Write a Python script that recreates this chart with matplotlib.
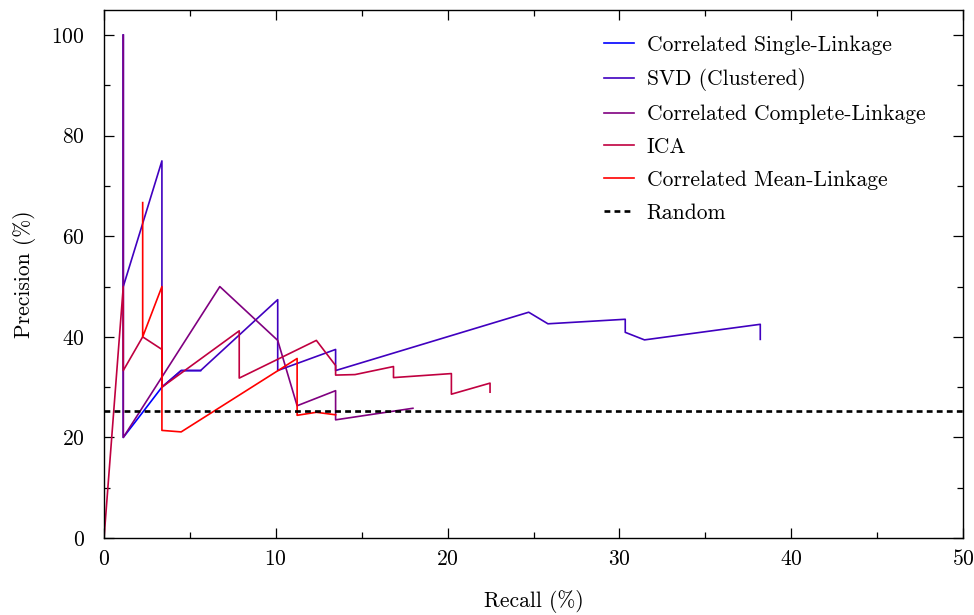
import matplotlib
matplotlib.use("Agg")
import matplotlib.pyplot as plt
from matplotlib.ticker import MultipleLocator

plt.rcParams['font.family'] = 'serif'
plt.rcParams['font.serif'] = ['cmr10', 'DejaVu Serif']
plt.rcParams['mathtext.fontset'] = 'cm'
plt.rcParams['axes.formatter.use_mathtext'] = True

# recall / precision values (%)
single_x = [1.12, 1.12, 2.25, 3.37, 4.49, 5.62]
single_y = [100.0, 20.0, 25.0, 30.0, 33.3, 33.3]

svd_x = [1.12, 1.12, 3.37, 3.37, 4.49, 5.62, 10.11, 10.11, 13.48, 13.48,
         24.72, 25.84, 30.34, 30.34, 31.46, 38.20, 38.20]
svd_y = [100.0, 50.0, 75.0, 30.0, 33.3, 33.3, 47.4, 33.3, 37.5, 33.3,
         44.9, 42.6, 43.5, 40.9, 39.4, 42.5, 39.5]

complete_x = [1.12, 1.12, 6.74, 10.11, 11.24, 13.48, 13.48, 17.98]
complete_y = [100.0, 20.0, 50.0, 39.3, 26.3, 29.3, 23.5, 25.8]

ica_x = [0.0, 1.12, 1.12, 2.25, 3.37, 3.37, 7.87, 7.87, 12.36, 13.48, 13.48,
         14.61, 16.85, 16.85, 20.22, 20.22, 22.47, 22.47]
ica_y = [0.0, 50.0, 33.3, 40.0, 37.5, 30.0, 41.2, 31.8, 39.3, 34.3, 32.4,
         32.5, 34.1, 31.9, 32.7, 28.6, 30.8, 29.0]

mean_x = [2.25, 2.25, 3.37, 3.37, 4.49, 11.24, 11.24, 12.36, 13.48]
mean_y = [66.7, 40.0, 50.0, 21.4, 21.1, 35.7, 24.4, 25.0, 24.5]

random_level = 25.3

fig = plt.figure(figsize=(9.74, 6.15), dpi=100)
ax = fig.add_axes([0.1068, 0.1252, 0.8819, 0.8585])

lw = 1.2
ax.plot(single_x, single_y, color='#0000ff', lw=lw, label='Correlated Single-Linkage')
ax.plot(svd_x, svd_y, color='#4000c0', lw=lw, label='SVD (Clustered)')
ax.plot(complete_x, complete_y, color='#800080', lw=lw, label='Correlated Complete-Linkage')
ax.plot(ica_x, ica_y, color='#c00040', lw=lw, label='ICA')
ax.plot(mean_x, mean_y, color='#ff0000', lw=lw, label='Correlated Mean-Linkage')
ax.axhline(random_level, color='black', lw=1.9, ls=(0, (2.2, 1.6)), label='Random')

fs = 15.5
ax.set_xlim(0, 50)
ax.set_ylim(0, 105)
ax.xaxis.set_major_locator(MultipleLocator(10))
ax.xaxis.set_minor_locator(MultipleLocator(5))
ax.yaxis.set_major_locator(MultipleLocator(20))
ax.yaxis.set_minor_locator(MultipleLocator(10))
ax.tick_params(which='both', direction='in', top=True, right=True,
               labelsize=fs, width=0.9)
ax.tick_params(which='major', length=7)
ax.tick_params(axis='x', which='major', pad=8)
ax.tick_params(axis='y', which='major', pad=14)
ax.tick_params(which='minor', length=4)
for s in ax.spines.values():
    s.set_linewidth(1.0)

ax.set_xlabel('Recall (%)', fontsize=fs, labelpad=15)
ax.set_ylabel('Precision (%)', fontsize=fs, labelpad=11)

ax.legend(loc='upper left', frameon=False, fontsize=fs, handlelength=1.4,
          handletextpad=0.6, labelspacing=0.62,
          bbox_to_anchor=(0.559, 0.9887))

fig.savefig('out.png', dpi=100)
